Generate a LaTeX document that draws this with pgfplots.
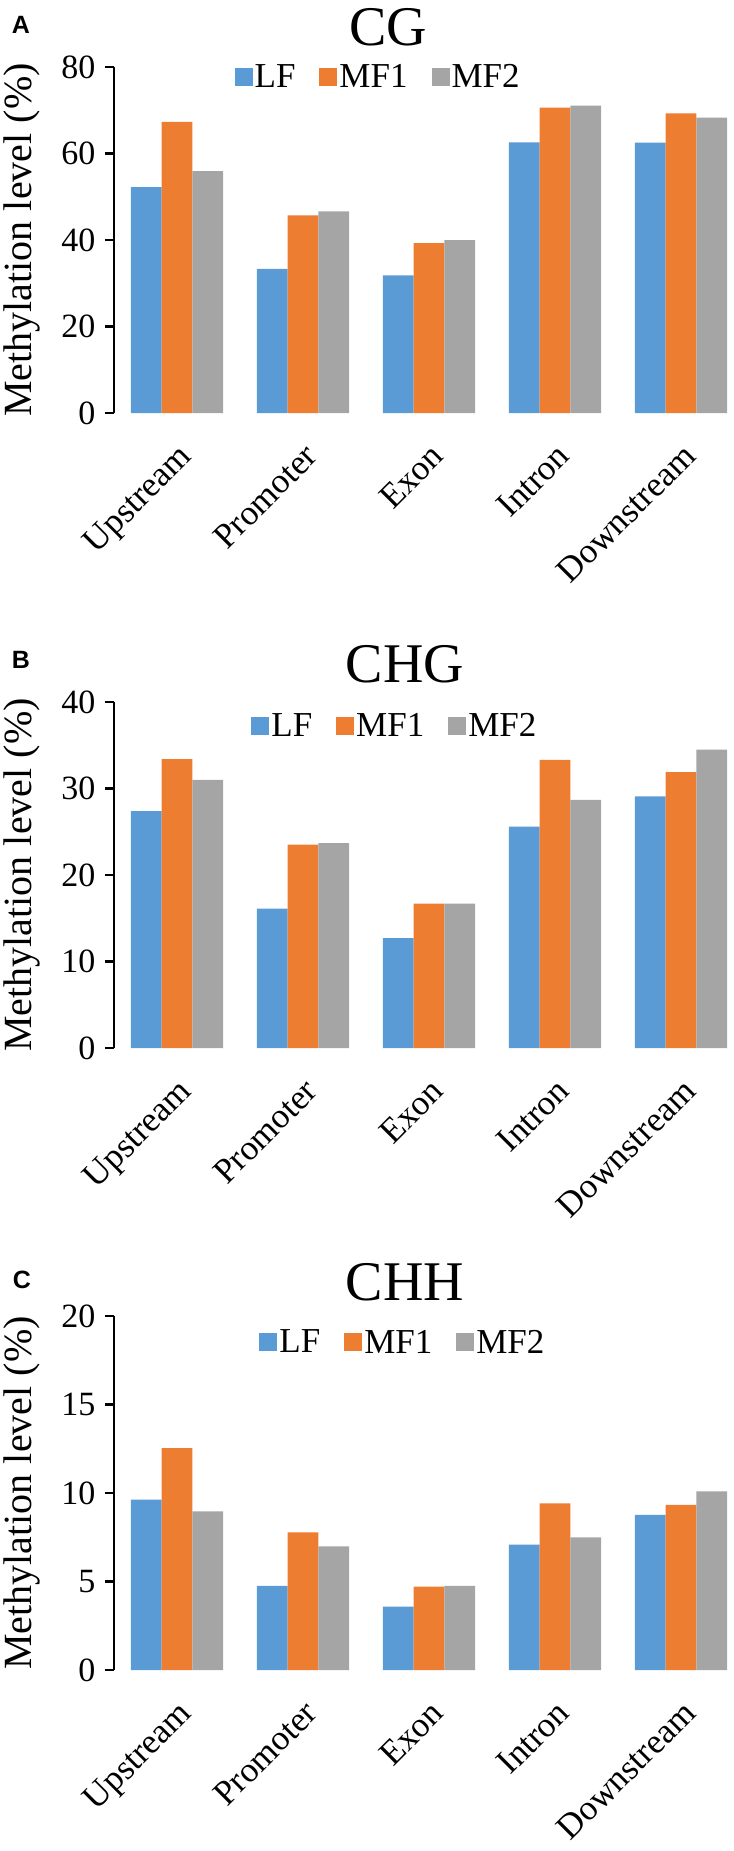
\documentclass[border=0pt]{standalone}
\usepackage{fontspec}
\setmainfont{Liberation Serif}
\newfontfamily\ser{Liberation Serif}
\newfontfamily\sansb{Liberation Sans}
\usepackage{pgfplots}
\pgfplotsset{compat=1.18}
\definecolor{cLF}{HTML}{5B9BD5}
\definecolor{cMF1}{HTML}{ED7D31}
\definecolor{cMF2}{HTML}{A5A5A5}
\pgfplotsset{
 panel/.style={
  scale only axis, width=620bp,
  xmin=-0.5, xmax=4.42, ymin=0,
  axis y line=left, axis x line=bottom,
  axis line style={-},
  x axis line style={draw=none},
  y axis line style={line width=2.5bp, black},
  ytick style={line width=2.5bp, black},
  major tick length=9bp,
  tick align=outside,
  xtick={0,1,2,3,4},
  xticklabels={Upstream,Promoter,Exon,Intron,Downstream},
  xtick style={draw=none},
  xticklabel style={rotate=45, anchor=north east, inner sep=0pt, xshift=-14bp, yshift=-14bp, font=\ser\fontsize{35bp}{39bp}\selectfont},
  yticklabel style={font=\ser\fontsize{34bp}{38bp}\selectfont, xshift=-6bp},
  /pgf/number format/assume math mode=true,
  ylabel={Methylation level (\%)},
  ylabel style={at={(axis description cs:-0.148,0.5)}, anchor=center, font=\ser\fontsize{40bp}{44bp}\selectfont},
  ybar, bar width=0.244,
  legend columns=3,
  legend style={draw=none, fill=none, anchor=center, font=\ser\fontsize{35bp}{38bp}\selectfont,
     /tikz/every even column/.append style={column sep=22bp}},
  legend image code/.code={\fill[##1] (0bp,-9bp) rectangle (18bp,9bp);},
 }
}
\begin{document}
\begin{tikzpicture}
\useasboundingbox (0,0) rectangle (734bp,-1851bp);
% Panel A
\begin{axis}[panel, at={(114bp,-413bp)}, anchor=south west, height=346bp,
  ymax=80, ytick={0,20,40,60,80},
  legend style={at={(0.426,0.971)}}]
\addplot[fill=cLF, draw=none, bar shift=-0.244] coordinates {(0,52.2) (1,33.3) (2,31.8) (3,62.6) (4,62.5)};
\addplot[fill=cMF1, draw=none, bar shift=0] coordinates {(0,67.3) (1,45.7) (2,39.3) (3,70.6) (4,69.3)};
\addplot[fill=cMF2, draw=none, bar shift=0.244] coordinates {(0,55.9) (1,46.6) (2,40.0) (3,71.1) (4,68.3)};
\legend{LF,MF1,MF2}
\end{axis}
% Panel B
\begin{axis}[panel, at={(114bp,-1048bp)}, anchor=south west, height=346bp,
  ymax=40, ytick={0,10,20,30,40},
  legend style={at={(0.453,0.931)}}]
\addplot[fill=cLF, draw=none, bar shift=-0.244] coordinates {(0,27.4) (1,16.1) (2,12.7) (3,25.6) (4,29.1)};
\addplot[fill=cMF1, draw=none, bar shift=0] coordinates {(0,33.4) (1,23.5) (2,16.7) (3,33.3) (4,31.9)};
\addplot[fill=cMF2, draw=none, bar shift=0.244] coordinates {(0,31.0) (1,23.7) (2,16.7) (3,28.7) (4,34.5)};
\legend{LF,MF1,MF2}
\end{axis}
% Panel C
\begin{axis}[panel, at={(114bp,-1670bp)}, anchor=south west, height=354bp,
  ymax=20, ytick={0,5,10,15,20},
  legend style={at={(0.466,0.926)}}]
\addplot[fill=cLF, draw=none, bar shift=-0.244] coordinates {(0,9.62) (1,4.76) (2,3.58) (3,7.08) (4,8.76)};
\addplot[fill=cMF1, draw=none, bar shift=0] coordinates {(0,12.53) (1,7.78) (2,4.71) (3,9.42) (4,9.33)};
\addplot[fill=cMF2, draw=none, bar shift=0.244] coordinates {(0,8.96) (1,6.99) (2,4.76) (3,7.50) (4,10.10)};
\legend{LF,MF1,MF2}
\end{axis}
\node[font=\ser\fontsize{56bp}{60bp}\selectfont] at (388bp,-27bp) {CG};
\node[font=\ser\fontsize{56bp}{60bp}\selectfont] at (405bp,-664bp) {CHG};
\node[font=\ser\fontsize{56bp}{60bp}\selectfont] at (405bp,-1282bp) {CHH};
\node[font=\sansb\bfseries\fontsize{25bp}{28bp}\selectfont] at (21bp,-25bp) {A};
\node[font=\sansb\bfseries\fontsize{25bp}{28bp}\selectfont] at (21bp,-660bp) {B};
\node[font=\sansb\bfseries\fontsize{25bp}{28bp}\selectfont] at (22bp,-1280bp) {C};
\end{tikzpicture}
\end{document}
